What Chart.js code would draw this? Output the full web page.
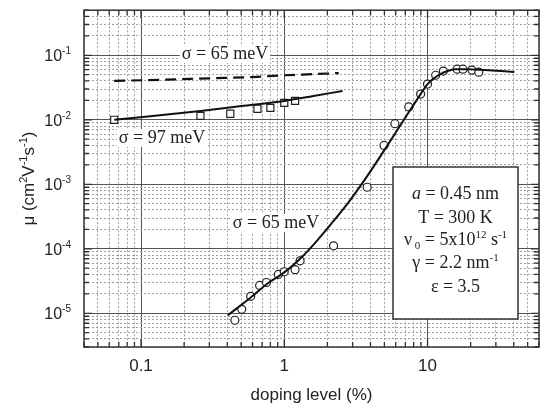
<!DOCTYPE html>
<html>
<head>
<meta charset="utf-8">
<script src="https://cdn.jsdelivr.net/npm/chart.js@4/dist/chart.umd.min.js"></script>
<style>
  html, body { margin: 0; padding: 0; background: #fff; overflow: hidden; }
  canvas { display: block; }
</style>
</head>
<body>
<canvas id="mobility" width="548" height="409"></canvas>
<script>
// mobility vs doping level, log-log

// open squares (sigma = 97 meV set)
const squareX = [0.065, 0.26, 0.42, 0.65, 0.80, 1.00, 1.19];
const squareY = [0.0100, 0.0115, 0.0124, 0.0148, 0.0153, 0.0183, 0.0196];

// open circles (sigma = 65 meV set)
const circleX = [0.452, 0.505, 0.583, 0.673, 0.751, 0.909, 1.00, 1.19, 1.29, 2.21,
  3.79, 4.97, 5.92, 7.4, 8.95, 10.0, 11.4, 12.9, 16.1, 17.7, 20.4, 22.8];
const circleY = [7.8e-6, 1.15e-5, 1.83e-5, 2.7e-5, 3.0e-5, 4.0e-5, 4.4e-5, 4.75e-5, 6.5e-5, 1.11e-4,
  9.0e-4, 4.0e-3, 8.7e-3, 0.0158, 0.025, 0.0358, 0.049, 0.057, 0.061, 0.061, 0.059, 0.0547];

// model curve, sigma = 65 meV (through the circles)
const fit65X = [0.404, 0.583, 0.764, 1.0, 1.29, 1.69, 2.21, 2.85, 3.74, 5.13, 7.05,
  8.95, 10.0, 11.4, 12.7, 15.6, 19.2, 25.1, 40.4];
const fit65Y = [9.3e-6, 1.76e-5, 2.9e-5, 4.3e-5, 7.0e-5, 1.33e-4, 2.7e-4, 5.5e-4, 1.28e-3, 3.7e-3, 0.0111,
  0.025, 0.0358, 0.046, 0.053, 0.061, 0.061, 0.059, 0.055];

// model curve, sigma = 97 meV (through the squares)
const fit97X = [0.065, 0.26, 0.5, 1.0, 1.6, 2.55];
const fit97Y = [0.0100, 0.0137, 0.0163, 0.0196, 0.0234, 0.0280];

// dashed model curve, sigma = 65 meV without the square data
const dash65X = [0.065, 0.15, 0.3, 0.6, 1.0, 1.6, 2.4];
const dash65Y = [0.040, 0.042, 0.044, 0.046, 0.049, 0.051, 0.053];

const xTickLabels = ["0.1", "1", "10"];
const xDecades = [-2, -1, 0, 1];
const yDecades = [-6, -5, -4, -3, -2, -1];

const xRange = [0.04, 60];
const yRange = [3e-6, 0.5];

const pts = (xs, ys) => xs.map((x, i) => ({ x, y: ys[i] }));
const isDecade = (v) => Math.abs(Math.log10(v) - Math.round(Math.log10(v))) < 1e-6;

// 1..9 x 10^n inside the axis range
const logTicks = (decades, [lo, hi]) => {
  const out = [];
  for (const d of decades) {
    for (let m = 1; m <= 9; m++) {
      const v = +(m * Math.pow(10, d)).toPrecision(6);
      if (v >= lo * 0.9999 && v <= hi * 1.0001) out.push(v);
    }
  }
  return out;
};

const xTicks = logTicks(xDecades, xRange);
const yTicks = logTicks(yDecades, yRange);

const INK = "#222";
const SERIF = '"Liberation Serif", "DejaVu Serif", serif';
const SANS = '"Liberation Sans", Arial, sans-serif';

// draw a run of text pieces: [text, font, dy]
function drawRich(ctx, parts, x, y, align) {
  let total = 0;
  for (const p of parts) {
    ctx.font = p[1];
    total += ctx.measureText(p[0]).width;
  }
  let cx = align === "center" ? x - total / 2 : align === "right" ? x - total : x;
  ctx.textAlign = "left";
  ctx.textBaseline = "alphabetic";
  for (const p of parts) {
    ctx.font = p[1];
    ctx.fillText(p[0], cx, y + (p[2] || 0));
    cx += ctx.measureText(p[0]).width;
  }
}

function labelOnWhite(ctx, text, cx, baseY) {
  ctx.font = `18px ${SERIF}`;
  const w = ctx.measureText(text).width;
  ctx.fillStyle = "#fff";
  ctx.fillRect(cx - w / 2 - 2, baseY - 14, w + 4, 18);
  ctx.fillStyle = INK;
  ctx.textAlign = "center";
  ctx.textBaseline = "alphabetic";
  ctx.fillText(text, cx, baseY);
}

const annotations = {
  id: "annotations",
  beforeDatasetsDraw(chart) {
    const { ctx } = chart;
    ctx.save();
    labelOnWhite(ctx, "σ = 65 meV", 225, 59);
    labelOnWhite(ctx, "σ = 97 meV", 162, 143);
    labelOnWhite(ctx, "σ = 65 meV", 276, 228);
    ctx.restore();
  },
  afterDatasetsDraw(chart) {
    const { ctx, chartArea: a, scales } = chart;
    ctx.save();

    // frame
    ctx.strokeStyle = "#333";
    ctx.lineWidth = 1.5;
    ctx.strokeRect(a.left, a.top, a.right - a.left, a.bottom - a.top);

    // inward tick marks on all four sides
    ctx.lineWidth = 1.3;
    ctx.beginPath();
    for (const v of xTicks) {
      const px = scales.x.getPixelForValue(v);
      const len = isDecade(v) ? 8 : 5;
      ctx.moveTo(px, a.bottom); ctx.lineTo(px, a.bottom - len);
      ctx.moveTo(px, a.top); ctx.lineTo(px, a.top + len);
    }
    for (const v of yTicks) {
      const py = scales.y.getPixelForValue(v);
      const len = isDecade(v) ? 8 : 5;
      ctx.moveTo(a.left, py); ctx.lineTo(a.left + len, py);
      ctx.moveTo(a.right, py); ctx.lineTo(a.right - len, py);
    }
    ctx.stroke();

    // y decade labels 10^n
    ctx.fillStyle = INK;
    for (const d of yDecades) {
      const v = Math.pow(10, d);
      if (v < yRange[0] || v > yRange[1]) continue;
      const py = scales.y.getPixelForValue(v);
      drawRich(ctx, [["10", `16px ${SANS}`, 0], [String(d), `10px ${SANS}`, -7]], 71, py + 6, "right");
    }

    // rotated y axis title
    ctx.save();
    ctx.translate(28, (a.top + a.bottom) / 2);
    ctx.rotate(-Math.PI / 2);
    const t = `17px ${SANS}`, ts = `11px ${SANS}`;
    drawRich(ctx, [["μ (cm", t], ["2", ts, -7], ["V", t], ["-1", ts, -7], ["s", t], ["-1", ts, -7], [")", t]], 0, 6, "center");
    ctx.restore();

    // parameter box
    const bx = 393, by = 167, bw = 125, bh = 152;
    ctx.fillStyle = "#fff";
    ctx.fillRect(bx, by, bw, bh);
    ctx.strokeStyle = "#333";
    ctx.lineWidth = 1.5;
    ctx.strokeRect(bx, by, bw, bh);
    ctx.fillStyle = INK;
    const f = `18px ${SERIF}`, fi = `italic 18px ${SERIF}`, fs = `11px ${SERIF}`;
    const cx = bx + bw / 2;
    drawRich(ctx, [["a", fi], [" = 0.45 nm", f]], cx, 199, "center");
    drawRich(ctx, [["T = 300 K", f]], cx, 223, "center");
    drawRich(ctx, [["ν", f], [" 0", fs, 4], [" = 5x10", f], ["12", fs, -7], [" s", f], ["-1", fs, -7]], cx, 245, "center");
    drawRich(ctx, [["γ = 2.2 nm", f], ["-1", fs, -7]], cx, 268, "center");
    drawRich(ctx, [["ε = 3.5", f]], cx, 292, "center");
    ctx.restore();
  },
};

const gridColor = (c) => (c.tick && isDecade(c.tick.value) ? "#555" : "#a0a0a0");
const gridDash = (c) => (c.tick && isDecade(c.tick.value) ? [] : [2, 2]);

new Chart(document.getElementById("mobility"), {
  type: "scatter",
  data: {
    datasets: [
      {
        label: "fit 65",
        data: pts(fit65X, fit65Y),
        showLine: true,
        borderColor: "#111",
        borderWidth: 2,
        pointRadius: 0,
        cubicInterpolationMode: "monotone",
      },
      {
        label: "fit 97",
        data: pts(fit97X, fit97Y),
        showLine: true,
        borderColor: "#111",
        borderWidth: 2,
        pointRadius: 0,
        cubicInterpolationMode: "monotone",
      },
      {
        label: "fit 65 dashed",
        data: pts(dash65X, dash65Y),
        showLine: true,
        borderColor: "#111",
        borderWidth: 2.2,
        borderDash: [11, 6],
        pointRadius: 0,
        cubicInterpolationMode: "monotone",
      },
      {
        label: "circles",
        data: pts(circleX, circleY),
        pointStyle: "circle",
        pointRadius: 4,
        borderWidth: 1.2,
        borderColor: "#222",
        backgroundColor: "#fff",
      },
      {
        label: "squares",
        data: pts(squareX, squareY),
        pointStyle: "rect",
        pointRadius: 5,
        borderWidth: 1.2,
        borderColor: "#222",
        backgroundColor: "#fff",
      },
    ],
  },
  options: {
    responsive: false,
    animation: false,
    events: [],
    layout: { padding: { left: 0, top: 7, right: 3, bottom: 0 } },
    plugins: { legend: { display: false }, tooltip: { enabled: false } },
    scales: {
      x: {
        type: "logarithmic",
        min: xRange[0],
        max: xRange[1],
        afterBuildTicks: (s) => { s.ticks = xTicks.map((value) => ({ value })); },
        afterFit: (s) => { s.height = 62; },
        grid: { color: gridColor, lineWidth: 1, drawTicks: false },
        border: { display: false, dash: gridDash },
        ticks: {
          autoSkip: false,
          maxRotation: 0,
          padding: 9,
          color: INK,
          font: { family: SANS, size: 17 },
          callback: (v) => {
            const i = [0.1, 1, 10].findIndex((d) => Math.abs(d - v) < 1e-9);
            return i >= 0 ? xTickLabels[i] : "";
          },
        },
        title: {
          display: true,
          text: "doping level (%)",
          color: INK,
          font: { family: SANS, size: 17 },
          padding: { top: 0, bottom: 3 },
        },
      },
      y: {
        type: "logarithmic",
        min: yRange[0],
        max: yRange[1],
        afterBuildTicks: (s) => { s.ticks = yTicks.map((value) => ({ value })); },
        afterFit: (s) => { s.width = 84; },
        grid: { color: gridColor, lineWidth: 1, drawTicks: false },
        border: { display: false, dash: gridDash },
        ticks: { autoSkip: false, callback: () => "" },
      },
    },
  },
  plugins: [annotations],
});
</script>
</body>
</html>
